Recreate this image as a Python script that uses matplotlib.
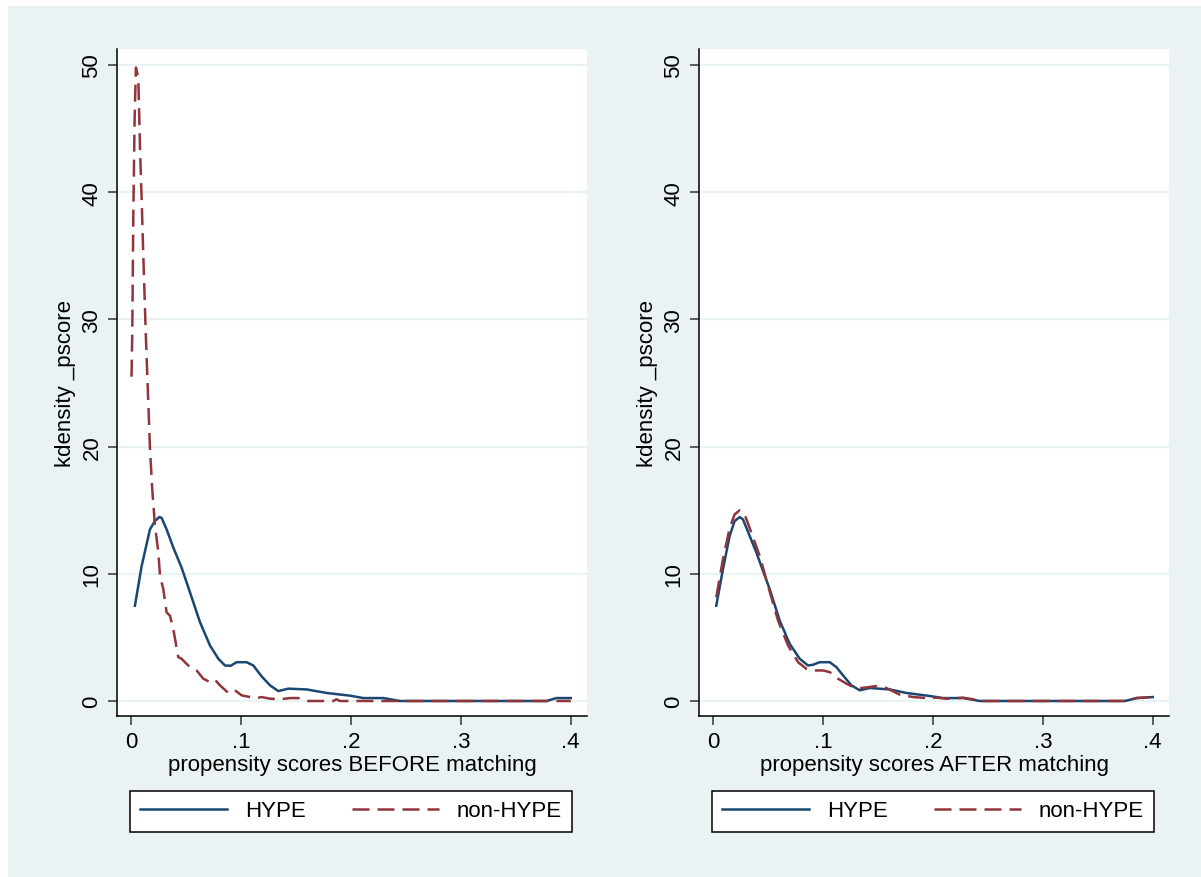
import matplotlib.pyplot as plt
from matplotlib.patches import Rectangle
from matplotlib.lines import Line2D

plt.rcParams['font.family'] = ['Liberation Sans', 'DejaVu Sans']

NAVY = '#1A476F'
MAROON = '#90353B'
BG = '#EAF2F3'

# kdensity curves
before_hype_x = [0.0036, 0.0097, 0.0173, 0.0218, 0.0258, 0.0279, 0.0324, 0.0385, 0.046, 0.0537,
                 0.0628, 0.0719, 0.0795, 0.0855, 0.0907, 0.0961, 0.1052, 0.1113, 0.1189, 0.1265,
                 0.134, 0.1431, 0.1598, 0.178, 0.1992, 0.2114, 0.2296, 0.2447, 0.378, 0.387, 0.4]
before_hype_y = [7.49, 10.6, 13.5, 14.15, 14.46, 14.4, 13.5, 12.06, 10.5, 8.54,
                 6.19, 4.36, 3.32, 2.79, 2.77, 3.05, 3.05, 2.79, 1.93, 1.23,
                 0.78, 0.97, 0.91, 0.63, 0.42, 0.23, 0.23, 0.0, 0.0, 0.23, 0.23]

before_non_x = [0.0005, 0.0012, 0.0021, 0.0033, 0.0045, 0.0067, 0.0082, 0.0097, 0.0112, 0.0133,
                0.0173, 0.0194, 0.0218, 0.0249, 0.0264, 0.0294, 0.0324, 0.0355, 0.0385, 0.043,
                0.046, 0.0491, 0.0537, 0.0597, 0.0658, 0.0719, 0.0764, 0.081, 0.0886, 0.0946,
                0.1007, 0.1083, 0.1143, 0.1189, 0.1265, 0.1356, 0.1447, 0.1522, 0.1598, 0.184,
                0.187, 0.19, 0.4]
before_non_y = [25.5, 29.0, 37.9, 45.6, 49.8, 49.0, 43.5, 39.5, 35.1, 29.3,
                19.8, 16.6, 13.8, 11.7, 9.84, 8.8, 6.97, 6.7, 5.67, 3.45,
                3.32, 3.05, 2.66, 2.4, 1.75, 1.49, 1.67, 1.23, 0.63, 0.84,
                0.44, 0.31, 0.23, 0.31, 0.18, 0.13, 0.23, 0.23, 0.0, 0.0,
                0.13, 0.0, 0.0]

after_hype_x = [0.003, 0.0091, 0.0152, 0.0197, 0.0243, 0.0273, 0.0334, 0.0395, 0.0455, 0.0516,
                0.0607, 0.0698, 0.0789, 0.0865, 0.091, 0.0971, 0.1062, 0.1123, 0.1184, 0.126,
                0.1335, 0.1426, 0.1608, 0.176, 0.1973, 0.2094, 0.2276, 0.2428, 0.3748, 0.3854, 0.4]
after_hype_y = [7.49, 10.37, 12.98, 14.15, 14.46, 14.28, 12.98, 11.67, 10.23, 8.8,
                6.32, 4.49, 3.32, 2.79, 2.85, 3.05, 3.05, 2.66, 2.0, 1.23,
                0.84, 1.02, 0.91, 0.63, 0.39, 0.23, 0.23, 0.0, 0.0, 0.23, 0.31]

after_non_x = [0.003, 0.0091, 0.0152, 0.0197, 0.0243, 0.0288, 0.0349, 0.0425, 0.0501, 0.0592,
               0.0683, 0.0774, 0.085, 0.091, 0.1002, 0.1062, 0.1138, 0.1214, 0.1275, 0.135,
               0.1487, 0.1578, 0.1699, 0.1821, 0.1942, 0.2033, 0.2124, 0.2276, 0.2367, 0.2443,
               0.3748, 0.3854, 0.4]
after_non_y = [8.15, 11.15, 13.6, 14.67, 14.99, 14.67, 13.24, 11.41, 9.06, 6.32,
               4.36, 3.05, 2.53, 2.4, 2.4, 2.27, 1.75, 1.36, 1.1, 1.02,
               1.17, 1.02, 0.5, 0.31, 0.23, 0.26, 0.18, 0.26, 0.13, 0.0,
               0.0, 0.23, 0.31]

xticks = [0, 0.1, 0.2, 0.3, 0.4]
xticklabels = ['0', '.1', '.2', '.3', '.4']
yticks = [0, 10, 20, 30, 40, 50]

W, H = 1201, 878
fig = plt.figure(figsize=(W / 100, H / 100), dpi=100, facecolor='white')
fig.patches.append(Rectangle((8 / W, 0), 1, 1 - 7 / H, transform=fig.transFigure,
                             facecolor=BG, edgecolor='none', zorder=-10))

lw = 1.8
dash = (6.8, 3.2)

panels = [
    (117, before_hype_x, before_hype_y, before_non_x, before_non_y,
     'propensity scores BEFORE matching'),
    (699, after_hype_x, after_hype_y, after_non_x, after_non_y,
     'propensity scores AFTER matching'),
]

for left_px, hx, hy, nx, ny, xlabel in panels:
    ax = fig.add_axes([left_px / W, 1 - 717 / H, 470 / W, 667 / H])
    ax.set_facecolor('white')
    ax.plot(hx, hy, color=NAVY, lw=lw, zorder=3)
    ax.plot(nx, ny, color=MAROON, lw=lw, dashes=dash, zorder=3)
    ax.set_xlim(-0.0127, 0.4148)
    ax.set_ylim(-1.18, 51.26)
    ax.set_xticks(xticks)
    ax.set_xticklabels(xticklabels)
    ax.set_yticks(yticks)
    ax.set_yticklabels([str(v) for v in yticks], rotation=90, va='center')
    ax.grid(axis='y', color=BG, lw=1.6, zorder=0)
    ax.set_axisbelow(True)
    for s in ['top', 'right']:
        ax.spines[s].set_visible(False)
    for s in ['left', 'bottom']:
        ax.spines[s].set_linewidth(1.1)
        ax.spines[s].set_color('black')
    ax.tick_params(direction='out', length=6.5, width=1.1, color='#333333',
                   labelsize=16, pad=4)
    ax.set_xlabel(xlabel, fontsize=16, labelpad=2)
    ax.set_ylabel('kdensity _pscore', fontsize=16, labelpad=4)

    handles = [Line2D([], [], color=NAVY, lw=lw),
               Line2D([], [], color=MAROON, lw=lw, dashes=dash)]
    leg = ax.legend(handles, ['HYPE', 'non-HYPE'], ncol=2, fontsize=16,
                    loc='center', bbox_to_anchor=((left_px + 234) / W, 1 - 812 / H),
                    bbox_transform=fig.transFigure, frameon=True, fancybox=False,
                    framealpha=1, edgecolor='black', borderpad=0.45,
                    handlelength=3.9, handletextpad=0.8, columnspacing=2.1)
    leg.get_frame().set_linewidth(1.1)

fig.savefig('out.png', dpi=100, facecolor='white')
